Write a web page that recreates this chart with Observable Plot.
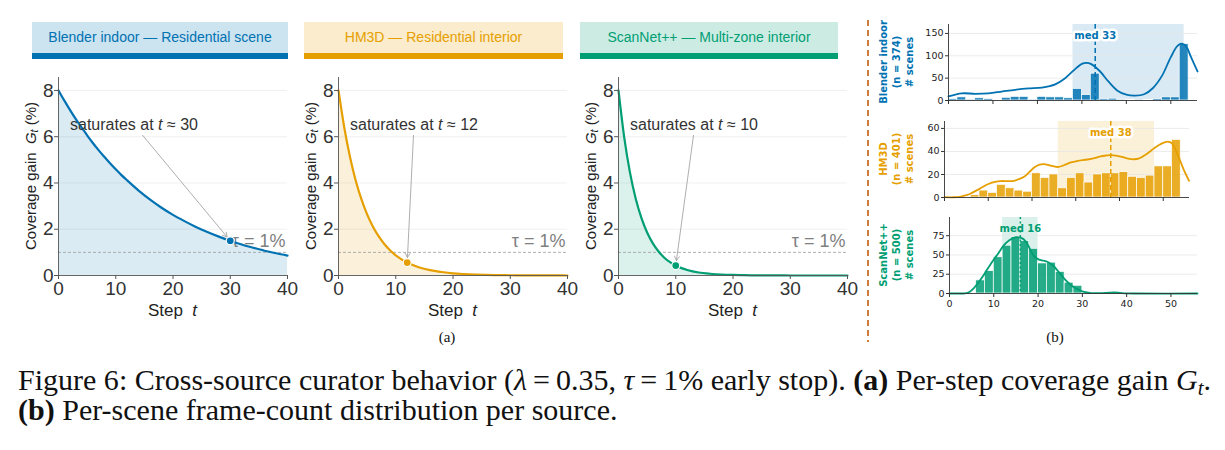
<!DOCTYPE html>
<html><head><meta charset="utf-8">
<script src="https://cdn.jsdelivr.net/npm/d3@7"></script>
<script src="https://cdn.jsdelivr.net/npm/@observablehq/plot@0.6"></script>
<style>
html,body{margin:0;padding:0;background:#fff;}
#fig{position:relative;width:1225px;height:450px;overflow:hidden;background:#fff;font-family:"Liberation Sans",Arial,sans-serif;}
.band{position:absolute;box-sizing:border-box;text-align:center;font-size:14px;line-height:31px;white-space:nowrap;}
.rowlab{position:absolute;transform:translate(-50%,-50%) rotate(-90deg);text-align:center;font:bold 10px "DejaVu Sans",sans-serif;line-height:13px;white-space:nowrap;}
.sublab{position:absolute;transform:translate(-50%,-50%);font-family:"Liberation Serif",serif;font-size:15px;color:#111;}
#cap{position:absolute;left:18px;font-family:"Liberation Serif","Times New Roman",serif;color:#111;white-space:nowrap;line-height:30px;}
#cap sub{font-size:70%;line-height:0;vertical-align:-0.25em;}
</style></head>
<body><div id="fig"></div>
<script>
// ---------------- data: (a) per-step coverage gain ----------------
const sources = ["Blender indoor", "HM3D", "ScanNet++"];
const sceneTypes = ["Residential scene", "Residential interior", "Multi-zone interior"];
const colors = ["#0072B2", "#E69F00", "#009E73"];
const steps = [0,1,2,3,4,5,6,7,8,9,10,11,12,14,16,18,20,22,24,26,28,30,32,34,36,38,40];
const gainBlender = [8.00,7.57,7.16,6.77,6.41,6.06,5.73,5.42,5.13,4.85,4.59,4.34,4.11,3.67,3.28,2.93,2.62,2.35,2.10,1.88,1.68,1.50,1.34,1.20,1.07,0.96,0.86];
const gainHM3D    = [8.00,6.41,5.13,4.11,3.30,2.64,2.12,1.70,1.36,1.09,0.87,0.70,0.56,0.36,0.23,0.15,0.09,0.06,0.04,0.025,0.016,0.010,0.007,0.004,0.003,0.002,0.001];
const gainScanNet = [8.00,5.97,4.46,3.33,2.49,1.86,1.39,1.04,0.77,0.58,0.43,0.32,0.24,0.13,0.075,0.042,0.023,0.013,0.007,0.004,0.002,0.001,0.001,0,0,0,0];
const satStep = [30, 12, 10];
const satGain = [1.50, 0.56, 0.43];
const tau = 1;
const stepTicks = [0,10,20,30,40];
const gainTicks = [0,2,4,6,8];
const annText = [2.1, 6.54];                 // where the "saturates at" note sits (step, gain)
const annFrom = [[14.7, 6.06], [13.1, 6.06], [13.1, 6.06]]; // arrow tails (step, gain)

// ---------------- data: (b) per-scene frame-count histograms ----------------
const nScenes = [374, 401, 500];
const binWidth = 2;
const blenderBins = [0,2,4,6,8,10,12,14,16,18,20,22,24,26,28,30,32,34,36,38,40,42,44,46,48,50,52];
const blenderCounts = [3,7,2,5,3,0,6,8,8,2,8,7,7,5,26,12,60,3,4,2,1,0,1,3,7,7,126];
const hm3dBins = [6,8,10,12,14,16,18,20,22,24,26,28,30,32,34,36,38,40,42,44,46,48,50,52];
const hm3dCounts = [2,6,4,11,8,6,5,21,17,20,8,17,21,13,20,21,21,22,18,17,19,27,27,50];
const scanBins = [6,8,10,12,14,16,18,20,22,24,26,28];
const scanCounts = [17,29,47,62,73,68,58,39,40,28,14,10];
const kdeBlenderX = [0,3,6,9,12,15,18,21,24,26,28,30,31,32,34,36,38,40,42,44,46,48,50,51.5,52.5,53.5,54.5,56];
const kdeBlenderY = [9,16,15,16,20,24,27,29,36,48,66,82,84,82,66,42,22,13,11,14,28,55,97,122,127,120,98,65];
const kdeHM3DX = [0,2,3.8,5,6,8,9.9,11.5,12.9,14.5,15.9,17,18.2,19.5,20.5,21.7,22.8,24,25.8,27.3,28.9,30.5,32.7,34.5,35.7,37,38,39.5,41,42.3,43.3,44.5,46.3,48,49.7,51,52,53.2,54.7,55.9];
const kdeHM3DY = [0.3,0.2,0.8,2,3.5,7.5,11.5,13.5,14.3,14.2,14.5,16,18,22.5,26,28.5,29,28,26.5,28,30.5,31.8,33,34.5,35.8,36.5,36.8,36.2,34.8,33.5,33.2,34,38,43,47,48.5,47,38,24,14.5];
const kdeScanX = [0,2,3.5,4.5,5.5,6.5,7.5,8.5,10,11,12.2,13.5,15,16,16.8,17.8,18.5,19.3,20.2,21.3,22.5,23.6,24.8,25.8,27,28.1,29.3,30.4,32,34,36,37.2,38.5,40,42,56];
const kdeScanY = [0,0,0.3,2,7,14,22,31,44,52,62,69,73,72.5,70,62,54,47,44,42.5,40,35,27,20,13,8,4.5,2,0.6,0.4,1,1.3,0.8,0.2,0,0];
const medians = [33, 38, 16];
const iqrLow = [28, 26, 12];
const iqrHigh = [53, 48, 20];
const frameTicks = [0,10,20,30,40,50];
const countTicks = [[0,50,100,150],[0,20,40,60],[0,25,50,75]];
const countTop = [170, 66, 98.6];

// ---------------- layout ----------------
const fig = document.getElementById("fig");
function put(node, left, top) {
  node.style.position = "absolute";
  node.style.left = left + "px";
  node.style.top = top + "px";
  fig.appendChild(node);
  return node;
}
function richText(parent, x, y, parts, attrs, fs) {
  const t = d3.select(parent).append("text").attr("x", x).attr("y", y);
  for (const [k, v] of Object.entries(attrs)) t.attr(k, v);
  let shifted = false;
  for (const [s, st] of parts) {
    const ts = t.append("tspan").text(s);
    if (st.includes("i")) ts.attr("font-style", "italic");
    if (st.includes("sub")) { ts.attr("font-size", fs * 0.7).attr("dy", fs * 0.28); shifted = true; }
    else if (shifted) { ts.attr("dy", -fs * 0.28); shifted = false; }
  }
  return t;
}

// header bands
const bandLeft = [32, 304, 580], bandWidth = [256, 259, 258];
for (let i = 0; i < 3; i++) {
  const b = document.createElement("div");
  b.className = "band";
  b.style.left = bandLeft[i] + "px"; b.style.top = "22px";
  b.style.width = bandWidth[i] + "px"; b.style.height = "37px";
  b.style.background = d3.color(colors[i]).copy({opacity: 0.2}).formatRgb();
  b.style.borderBottom = "6px solid " + colors[i];
  b.style.color = colors[i];
  b.textContent = `${sources[i]} \u2014 ${sceneTypes[i]}`;
  fig.appendChild(b);
}

// (a) panels
const gainSeries = [gainBlender, gainHM3D, gainScanNet];
const leftPos = [0, 280, 560];
for (let i = 0; i < 3; i++) {
  const c = colors[i];
  const curve = steps.map((t, k) => ({t, g: gainSeries[i][k]}));
  const sat = [{t: satStep[i], g: satGain[i], x1: annFrom[i][0], y1: annFrom[i][1]}];
  const svg = Plot.plot({
    width: 300, height: 260,
    marginLeft: 58, marginRight: 13, marginTop: 17, marginBottom: 45,
    x: {domain: [0, 40]},
    y: {domain: [0, 8.56]},
    style: {fontFamily: "Liberation Sans, Arial, sans-serif", fontSize: "19px", color: "#333", background: "transparent", overflow: "visible"},
    marks: [
      Plot.gridY(gainTicks.slice(1), {stroke: "#ececec", strokeOpacity: 1, strokeWidth: 0.8}),
      Plot.areaY(curve, {x: "t", y: "g", fill: c, fillOpacity: 0.14, curve: "monotone-x"}),
      Plot.ruleY([tau], {stroke: "#9a9a9a", strokeWidth: 0.8, strokeDasharray: "3,2"}),
      Plot.text([tau], {x: () => stepTicks[stepTicks.length - 1], y: d => d, dy: -11, dx: -2, text: d => `\u03c4 = ${d}%`, textAnchor: "end", fill: "#808080", fontSize: 18}),
      Plot.lineY(curve, {x: "t", y: "g", stroke: c, strokeWidth: 2.2, curve: "monotone-x"}),
      Plot.ruleX([0], {stroke: "#555", strokeWidth: 0.9}),
      Plot.ruleY([0], {stroke: "#555", strokeWidth: 0.9}),
      Plot.arrow(sat, {x1: "x1", y1: "y1", x2: "t", y2: "g", stroke: "#a5a5a5", strokeWidth: 0.9, headLength: 8, insetEnd: 5}),
      Plot.dot(sat, {x: "t", y: "g", r: 4, fill: c, stroke: "white", strokeWidth: 1.2}),
      Plot.axisX(stepTicks, {tickSize: 4, tickPadding: 2, label: null, stroke: "#555", fill: "#333"}),
      Plot.axisY(gainTicks, {tickSize: 4, tickPadding: 1, label: null, stroke: "#555", fill: "#333"})
    ]
  });
  put(svg, leftPos[i], 60);
  const x = svg.scale("x"), y = svg.scale("y");
  const fsA = 17;
  richText(svg, (x.apply(0) + x.apply(40)) / 2, y.apply(0) + 35, [["Step  ", ""], ["t", "i"]],
    {"text-anchor": "middle", "dominant-baseline": "central", "font-size": fsA, "fill": "#222"}, fsA);
  const fsY = 15, cx = x.apply(0) - 28, cy = (y.apply(0) + y.apply(8.56)) / 2;
  richText(svg, cx, cy, [["Coverage gain  ", ""], ["G", "i"], ["t", "i sub"], [" (%)", ""]],
    {"text-anchor": "middle", "dominant-baseline": "central", "font-size": fsY, "fill": "#222", "transform": `rotate(-90,${cx},${cy})`}, fsY);
  const fsN = 16;
  richText(svg, x.apply(annText[0]), y.apply(annText[1]), [["saturates at ", ""], ["t", "i"], [` \u2248 ${satStep[i]}`, ""]],
    {"text-anchor": "start", "dominant-baseline": "central", "font-size": fsN, "fill": "#333"}, fsN);
}

// (b) histograms
const binStarts = [blenderBins, hm3dBins, scanBins];
const binCounts = [blenderCounts, hm3dCounts, scanCounts];
const kdeX = [kdeBlenderX, kdeHM3DX, kdeScanX];
const kdeY = [kdeBlenderY, kdeHM3DY, kdeScanY];
const histFrames = [
  {left: 948, right: 1197, top: 24, bottom: 100},
  {left: 944, right: 1189, top: 121, bottom: 197},
  {left: 949, right: 1197, top: 217, bottom: 293}];
for (let i = 0; i < 3; i++) {
  const c = colors[i], f = histFrames[i];
  const ml = 40, mr = 14, mt = 10, mb = i === 2 ? 24 : 10;
  const bins = binStarts[i].map((b, k) => ({x1: b, x2: b + binWidth, n: binCounts[i][k]}));
  const kde = kdeX[i].map((v, k) => ({x: v, y: kdeY[i][k]}));
  const iqr = [{lo: iqrLow[i], hi: iqrHigh[i]}];
  const svg = Plot.plot({
    width: ml + f.right - f.left + mr, height: mt + f.bottom - f.top + mb,
    marginLeft: ml, marginRight: mr, marginTop: mt, marginBottom: mb,
    x: {domain: [0, 56]},
    y: {domain: [0, countTop[i]]},
    style: {fontFamily: "DejaVu Sans, sans-serif", fontSize: "9.5px", color: "#222", background: "transparent", overflow: "visible"},
    marks: [
      Plot.rect(iqr, {x1: "lo", x2: "hi", fill: c, fillOpacity: 0.15}),
      Plot.gridY(countTicks[i].slice(1), {stroke: "#e6e6e6", strokeOpacity: 1, strokeWidth: 0.8}),
      Plot.rectY(bins, {x1: "x1", x2: "x2", y: "n", fill: c, fillOpacity: 0.85, stroke: "white", strokeWidth: 0.7}),
      Plot.lineY(kde, {x: "x", y: "y", stroke: c, strokeWidth: 1.8, curve: "catmull-rom"}),
      Plot.ruleX([medians[i]], {stroke: c, strokeWidth: 1.5, strokeDasharray: i === 2 ? "2,2.5" : "5,3"}),
      Plot.text([medians[i]], {x: d => d, frameAnchor: "top", dy: 7, text: d => `med ${d}`, fill: c, fontWeight: "bold", fontSize: 10,
        stroke: i === 2 ? "none" : "white", strokeWidth: 5}),
      Plot.ruleX([0], {stroke: "#333", strokeWidth: 0.9}),
      Plot.ruleY([0], {stroke: "#333", strokeWidth: 0.9}),
      Plot.axisX(frameTicks, {tickSize: 4, tickPadding: 3, label: null, stroke: "#333", ...(i < 2 ? {tickFormat: () => ""} : {})}),
      Plot.axisY(countTicks[i], {tickSize: 3, tickPadding: 2, label: null, stroke: "#333"})
    ]
  });
  put(svg, f.left - ml, f.top - mt);
  const lab = document.createElement("div");
  lab.className = "rowlab";
  lab.style.left = "896px"; lab.style.top = ((f.top + f.bottom) / 2) + "px";
  lab.style.color = c;
  lab.innerHTML = `${sources[i]}<br>(n = ${nScenes[i]})<br># scenes`;
  fig.appendChild(lab);
}

// separator
const sep = document.createElement("div");
Object.assign(sep.style, {position: "absolute", left: "867px", top: "20px", width: "1.6px", height: "322px",
  background: "repeating-linear-gradient(to bottom, #cf7b3c 0 6px, transparent 6px 10px)"});
fig.appendChild(sep);

// sub-figure labels
for (const [t, x] of [["(a)", 447], ["(b)", 1055]]) {
  const d = document.createElement("div");
  d.className = "sublab"; d.style.left = x + "px"; d.style.top = "337px"; d.textContent = t;
  fig.appendChild(d);
}

// caption
const cap = document.createElement("div");
cap.id = "cap";
cap.innerHTML = `<div id="cap1">Figure 6: Cross-source curator behavior (<i>\u03bb</i>\u2009=\u20090.35, <i>\u03c4</i>\u2009=\u20091% early stop). <b>(a)</b> Per-step coverage gain <i>G<sub>t</sub></i>.</div>` +
  `<div><b>(b)</b> Per-scene frame-count distribution per source.</div>`;
cap.style.fontSize = "22px";
cap.style.top = "365px";
fig.appendChild(cap);
const l1 = document.getElementById("cap1");
const r = document.createRange(); r.selectNodeContents(l1);
const tw = r.getBoundingClientRect().width;
cap.style.fontSize = (22 * 1193 / tw).toFixed(2) + "px";
</script></body></html>
